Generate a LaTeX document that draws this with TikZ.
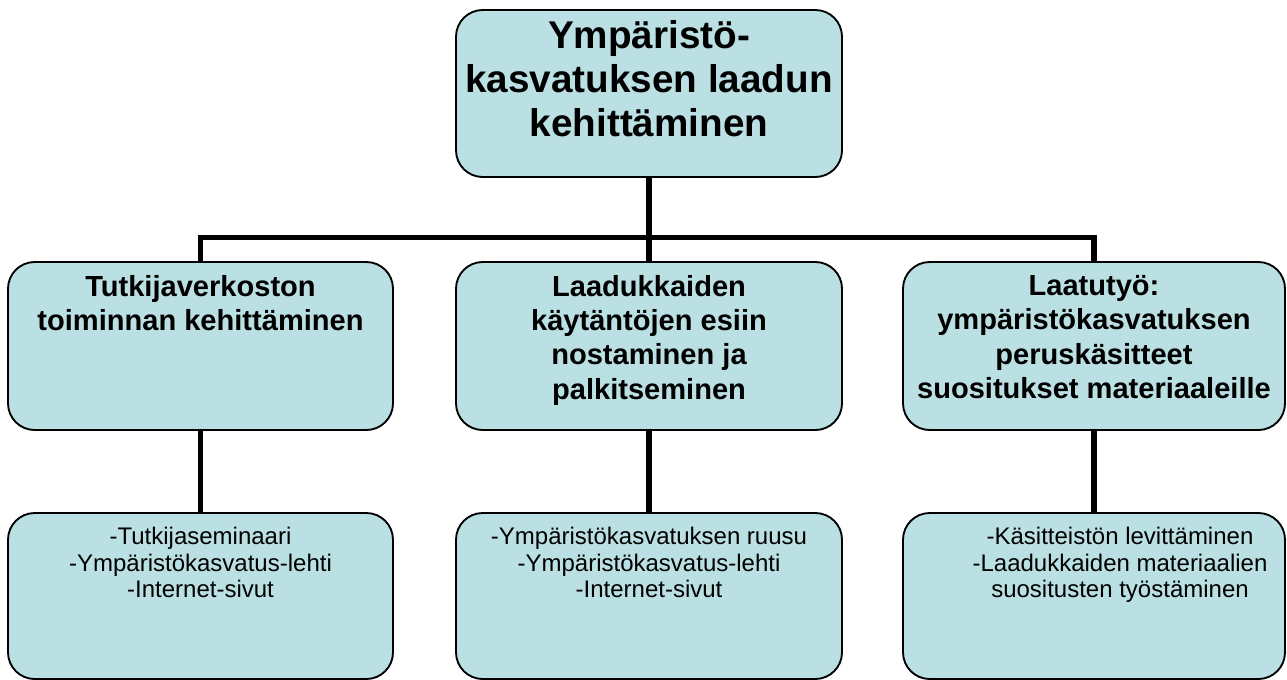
\documentclass[tikz,border=0pt]{standalone}
\usepackage{fontspec}
\setmainfont{Liberation Sans}
\usetikzlibrary{calc}
\definecolor{boxfill}{RGB}{187,224,227}
\tikzset{
  box/.style={draw=black, line width=1.4pt, fill=boxfill, rounded corners=20pt,
    inner sep=0pt, minimum height=#1},
  box/.default={126pt},
  conn/.style={line width=3.8pt, black},
  toptext/.style={anchor=north, align=center, inner sep=0pt,
    font=\fontsize{29pt}{33pt}\selectfont\bfseries},
  midtext/.style={anchor=north, align=center, inner sep=0pt,
    font=\fontsize{21.8pt}{25.7pt}\selectfont\bfseries},
  lowtext/.style={anchor=north, align=center, inner sep=0pt,
    font=\fontsize{18pt}{19.9pt}\selectfont}
}
\begin{document}
\begin{tikzpicture}[x=0.75pt, y=-0.75pt]
\useasboundingbox (0,0) rectangle (1287,679);
% boxes
\node[box=125.25pt, minimum width=289.5pt] (top) at (649,93.5) {};
\node[box=126pt, minimum width=288.75pt] (m1) at (200.5,346) {};
\node[box=126pt, minimum width=289.5pt] (m2) at (649,346) {};
\node[box=126pt, minimum width=286.5pt] (m3) at (1094,346) {};
\node[box=124.5pt, minimum width=288.75pt] (b1) at (200.5,596) {};
\node[box=124.5pt, minimum width=289.5pt] (b2) at (649,596) {};
\node[box=124.5pt, minimum width=286.5pt] (b3) at (1094,596) {};
% connectors
\coordinate (bar) at (649,237.5);
\draw[conn] (top.south) -- (m2.north);
\draw[conn] (m1.north) |- (bar) -| (m3.north);
\draw[conn] (m1.south) -- (b1.north);
\draw[conn] (m2.south) -- (b2.north);
\draw[conn] (m3.south) -- (b3.north);
% texts
\node[toptext] (ttop) at ($(top.north)+(0,11)$) {Ympäristö-\\kasvatuksen laadun\\kehittäminen};
\node[midtext] (tm1) at ($(m1.north)+(0,14)$) {Tutkijaverkoston\\toiminnan kehittäminen};
\node[midtext] (tm2) at ($(m2.north)+(0,14)$) {Laadukkaiden\\käytäntöjen esiin\\nostaminen ja\\palkitseminen};
\node[midtext] (tm3) at ($(m3.north)+(0,14)$) {Laatutyö:\\ympäristökasvatuksen\\peruskäsitteet\\suositukset materiaaleille};
\node[lowtext] (tb1) at ($(b1.north)+(0,15)$) {-Tutkijaseminaari\\-Ympäristökasvatus-lehti\\-Internet-sivut};
\node[lowtext] (tb2) at ($(b2.north)+(0,15)$) {-Ympäristökasvatuksen ruusu\\-Ympäristökasvatus-lehti\\-Internet-sivut};
\node[lowtext] (tb3) at ($(b3.north)+(26,15)$) {-Käsitteistön levittäminen\\-Laadukkaiden materiaalien\\suositusten työstäminen};
\end{tikzpicture}
\end{document}
